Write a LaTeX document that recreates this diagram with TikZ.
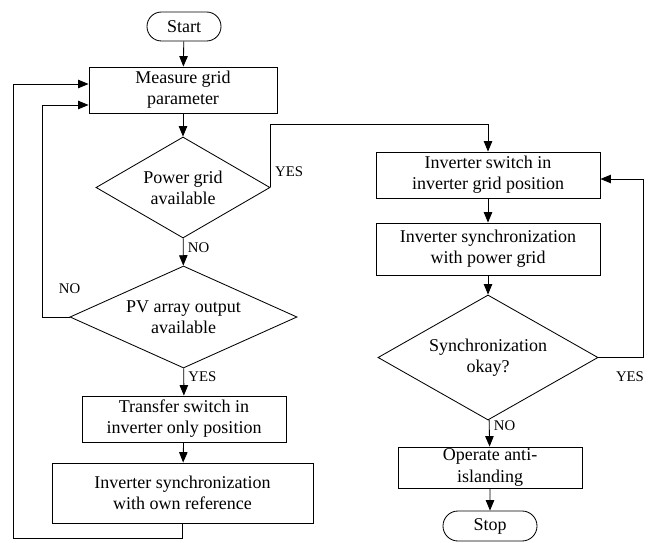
\documentclass[tikz,border=0pt]{standalone}
\usepackage{fontspec}
\setmainfont{Liberation Serif}
\usetikzlibrary{shapes.geometric, shapes.misc, arrows.meta, positioning, calc}

\begin{document}
\begin{tikzpicture}[x=0.025cm, y=-0.025cm,
        every node/.style={font=\fontsize{12.8}{15}\selectfont, align=center},
        box/.style={draw, rectangle, line width=0.6pt, inner sep=0pt},
        decision/.style={draw, diamond, line width=0.6pt, inner sep=0pt},
        terminal/.style={draw, rounded rectangle, line width=0.6pt, inner sep=0pt},
        lbl/.style={font=\fontsize{10.5}{12}\selectfont, inner sep=1pt},
        line/.style={draw, line width=0.6pt, -{Triangle[length=2.6mm, width=2.1mm]}}]
        \useasboundingbox (0,0) rectangle (648,543);

        % Left column
        \node[terminal, minimum width=1.85cm, minimum height=0.725cm] (start) at (184,26.5) {Start};
        \node[box, minimum width=4.7cm, minimum height=1.15cm] (measure) at (183,90) {Measure grid\\parameter};
        \node[decision, aspect=1.72, minimum width=4.35cm, minimum height=2.525cm] (grid) at (183,187.5) {Power grid\\available};
        \node[decision, aspect=2.2, minimum width=5.675cm, minimum height=2.55cm] (pv) at (183.5,317) {PV array output\\available};
        \node[box, minimum width=5.1cm, minimum height=1.15cm] (transfer) at (184,419) {Transfer switch in\\inverter only position};
        \node[box, minimum width=6.525cm, minimum height=1.5cm] (ownref) at (182.5,493) {Inverter synchronization\\with own reference};

        % Right column
        \node[box, minimum width=5.6cm, minimum height=1.15cm] (invswitch) at (488,175) {Inverter switch in\\inverter grid position};
        \node[box, minimum width=5.6cm, minimum height=1.3cm] (invsync) at (488,249) {Inverter synchronization\\with power grid};
        \node[decision, aspect=1.76, minimum width=5.5cm, minimum height=3.125cm] (syncok) at (488,357.5) {Synchronization\\okay?};
        \node[box, minimum width=4.6cm, minimum height=1.025cm] (operate) at (490,467.5) {Operate anti-\\islanding};
        \node[terminal, minimum width=2.35cm, minimum height=0.75cm] (stop) at (490,526) {Stop};

        % Straight flow
        \draw[line] (start) -- (measure);
        \draw[line] (measure) -- (grid);
        \draw[line] (grid) -- node[lbl, right=2pt, pos=0.36] {NO} (pv);
        \draw[line] (pv) -- node[lbl, right=2pt, pos=0.32] {YES} (transfer);
        \draw[line] (transfer) -- (ownref);
        \draw[line] (invswitch) -- (invsync);
        \draw[line] (invsync) -- (syncok);
        \draw[line] (syncok) -- node[lbl, right=2pt, pos=0.22] {NO} (operate);
        \draw[line] (operate) -- (stop);

        % Loops back
        \draw[line] (ownref.south) -- ++(0,15) -| (13,84) -- ($(measure.west)+(0,-6)$);
        \draw[line] (pv.west) node[lbl, above=0.55cm] {NO} -- (42,317) |- ($(measure.west)+(0,15)$);
        \draw[line] (grid.east) -- node[lbl, right=2pt, pos=0.25] {YES} ++(0,-63.5) -| (invswitch.north);
        \draw[line] (syncok.east) -- node[lbl, below=0.3cm, pos=0.7] {YES} ++(45,0) |- ($(invswitch.east)+(0,4)$);
    \end{tikzpicture}
\end{document}
